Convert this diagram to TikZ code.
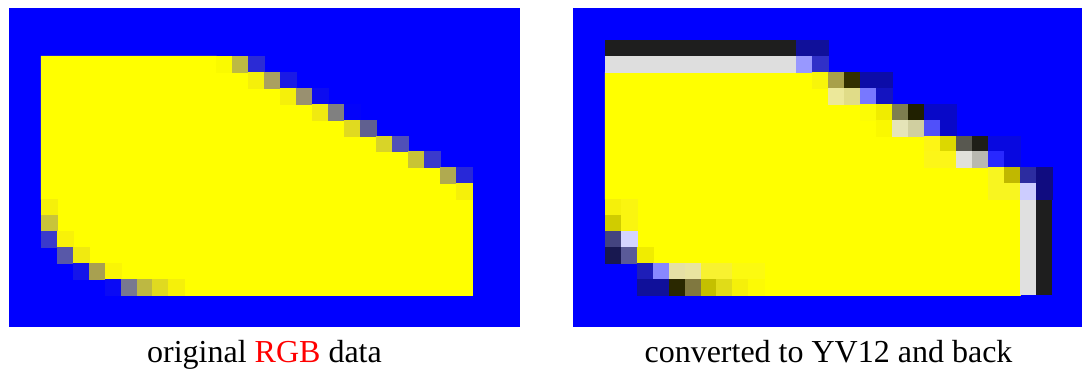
\documentclass[tikz,border=0pt]{standalone}
\usepackage{fontspec}
\setmainfont{Liberation Serif}
\usepackage{tikz}
\definecolor{PixBlue}{HTML}{0000FF}
\definecolor{PixYellow}{HTML}{FFFF00}
\definecolor{CapRed}{HTML}{FF0000}
% one pixel (or a run of #1 pixels) of the images
\newcommand{\pxl}[4][1]{\definecolor{pxc}{HTML}{#4}%
  \fill[pxc, draw=pxc, line width=0.25pt] (#2,#3) rectangle ++(#1,1);}

\begin{document}
\begin{tikzpicture}[x=0.5pt, y=-0.5pt,
  panel/.style={x=7.985pt, y=-7.985pt},
  captxt/.style={font=\fontsize{16}{19}\selectfont, inner sep=0pt, anchor=base}]
  \clip (0,0) rectangle (1082,372);
  \fill[white] (0,0) rectangle (1082,372);

  % original image
  \begin{scope}[shift={(9,8)}, panel]
    \fill[PixBlue] (0,0) rectangle (32,20);
    \fill[PixYellow, draw=PixYellow, line width=0.25pt]
      (2,3) -- (13,3) -- (13,4) -- (15,4) -- (15,5) -- (17,5) -- (17,6)
      -- (19,6) -- (19,7) -- (21,7) -- (21,8) -- (23,8) -- (23,9) -- (25,9)
      -- (25,10) -- (27,10) -- (27,11) -- (28,11) -- (28,12) -- (29,12)
      -- (29,18) -- (11,18) -- (11,17) -- (7,17) -- (7,16) -- (5,16)
      -- (5,15) -- (4,15) -- (4,14) -- (3,14) -- (3,12) -- (2,12) -- cycle;
    \pxl{13}{3}{FAFA00} \pxl{14}{3}{BDBA42} \pxl{15}{3}{2B2BD5}
    \pxl{15}{4}{F5F00A} \pxl{16}{4}{A9A060} \pxl{17}{4}{1A1AE5}
    \pxl{17}{5}{F5F00A} \pxl{18}{5}{999070} \pxl{19}{5}{0C0CF0}
    \pxl{19}{6}{F0EA10} \pxl{20}{6}{808080} \pxl{21}{6}{0303FA}
    \pxl{21}{7}{E0DA20} \pxl{22}{7}{606090}
    \pxl{23}{8}{D8D428} \pxl{24}{8}{5050B8}
    \pxl{25}{9}{C8C435} \pxl{26}{9}{3A3ACC}
    \pxl{27}{10}{B0AA50} \pxl{28}{10}{2828D8}
    \pxl{28}{11}{F5F00A}
    \pxl{2}{12}{F5F00A}
    \pxl{2}{13}{C8C43A}
    \pxl{2}{14}{3A3ACC} \pxl{3}{14}{F8F208}
    \pxl{3}{15}{5858A8} \pxl{4}{15}{F0EA10}
    \pxl{4}{16}{1515EA} \pxl{5}{16}{A8A050} \pxl{6}{16}{FAF505}
    \pxl{6}{17}{0A0AF5} \pxl{7}{17}{787890} \pxl{8}{17}{BDB842}
    \pxl{9}{17}{E0DA20} \pxl{10}{17}{F5F00A}
  \end{scope}

  % after YV12 round trip
  \begin{scope}[shift={(573,8)}, panel]
    \fill[PixBlue] (0,0) rectangle (32,20);
    \fill[PixYellow, draw=PixYellow, line width=0.25pt]
      (2,4) -- (15,4) -- (15,5) -- (16,5) -- (16,6) -- (18,6) -- (18,7)
      -- (19,7) -- (19,8) -- (22,8) -- (22,10) -- (26,10) -- (26,12)
      -- (28,12) -- (28,18) -- (12,18) -- (12,16) -- (5,16) -- (5,15)
      -- (4,15) -- (4,12) -- (2,12) -- cycle;
    \pxl[12]{2}{2}{1E1E1E} \pxl[2]{14}{2}{10109A}
    \pxl[12]{2}{3}{DEDEDE} \pxl{14}{3}{9898FF} \pxl{15}{3}{3030C8}
    \pxl{15}{4}{F8F50A} \pxl{16}{4}{A8A04A} \pxl{17}{4}{333000} \pxl[2]{18}{4}{0C0CA8}
    \pxl{16}{5}{ECE89A} \pxl{17}{5}{E0DC88} \pxl{18}{5}{7878FF} \pxl{19}{5}{1414C0}
    \pxl{18}{6}{FCFC05} \pxl{19}{6}{F0EC00} \pxl{20}{6}{7E7E50} \pxl{21}{6}{202000}
    \pxl[2]{22}{6}{0808C8}
    \pxl{19}{7}{FAF800} \pxl{20}{7}{E5E4B8} \pxl{21}{7}{D0CFA0} \pxl{22}{7}{5050FA}
    \pxl{23}{7}{0808C8}
    \pxl{22}{8}{FDF515} \pxl{23}{8}{DCD800} \pxl{24}{8}{585850} \pxl{25}{8}{1E1E18}
    \pxl[2]{26}{8}{0808E0}
    \pxl[2]{22}{9}{FCF618} \pxl{24}{9}{E0E0DA} \pxl{25}{9}{B8B8B0} \pxl{26}{9}{2828FF}
    \pxl{27}{9}{0808E0}
    \pxl{26}{10}{F8F520} \pxl{27}{10}{C0B800} \pxl{28}{10}{2C2CA0} \pxl{29}{10}{100C80}
    \pxl[2]{26}{11}{F8F520} \pxl{28}{11}{CCCCFF} \pxl{29}{11}{100C80}
    \pxl{2}{12}{F5F00A} \pxl{3}{12}{FAF510}
    \pxl{2}{13}{D0CC00} \pxl{3}{13}{FAF510}
    \pxl{2}{14}{444480} \pxl{3}{14}{D4D4FF}
    \pxl{2}{15}{181850} \pxl{3}{15}{5A5A98} \pxl{4}{15}{F0EC00}
    \pxl{4}{16}{1E1EB8} \pxl{5}{16}{8888FF} \pxl{6}{16}{E5E0A5} \pxl{7}{16}{E8E4A0}
    \pxl[2]{8}{16}{F8F230} \pxl[2]{10}{16}{FCFA10}
    \pxl[2]{4}{17}{10109A} \pxl{6}{17}{2A2800} \pxl{7}{17}{807840} \pxl{8}{17}{C4C000}
    \pxl{9}{17}{E0DC18} \pxl{10}{17}{F5F00A} \pxl{11}{17}{FCFA05}
    % right-hand columns, rows 12 to 17
    \fill[fill={rgb,255:red,224;green,224;blue,224}] (28,12) rectangle (29,18);
    \fill[fill={rgb,255:red,30;green,30;blue,30}] (29,12) rectangle (30,18);
  \end{scope}

  \node[captxt] (capL) at (264.5,362) {original \textcolor{CapRed}{RGB} data};
  \node[captxt] (capR) at (828.5,362) {converted to YV12 and back};
\end{tikzpicture}
\end{document}
